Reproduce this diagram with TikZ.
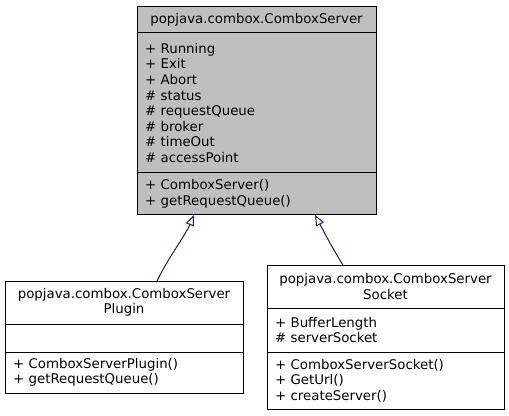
\documentclass[tikz,border=0pt]{standalone}
\usepackage{fontspec}
\setmainfont{DejaVu Sans}
\usetikzlibrary{positioning,arrows.meta}

\definecolor{edgeblue}{RGB}{25,25,112}
\definecolor{basegray}{RGB}{191,191,191}

\tikzset{
    classpart/.style={draw=black, rectangle, line width=0.75pt, outer sep=0pt,
        inner xsep=6pt, inner ysep=2pt, font=\fontsize{10}{11.7}\selectfont},
    classtitle/.style={classpart, align=center},
    classmember/.style={classpart, align=left},
    basefill/.style={fill=basegray},
    serverwidth/.style={minimum width=179.25pt, text width=167.25pt},
    pluginwidth/.style={minimum width=178.5pt, text width=166.5pt},
    socketwidth/.style={minimum width=177.75pt, text width=165.75pt},
    inherits/.style={draw=edgeblue, line width=0.75pt,
        -{Triangle[open, length=8pt, width=6.5pt]}},
}

\begin{document}
\begin{tikzpicture}[x=0.75pt, y=-0.75pt]
    \useasboundingbox (0,0) rectangle (509,416);

    % base class
    \node[classtitle, basefill, serverwidth, anchor=north, minimum height=19.5pt]
        (server) at (256.5,7) {popjava.combox.ComboxServer};
    \node[classmember, basefill, serverwidth, below=0pt of server, minimum height=105pt]
        (serverattr) {+ Running\\+ Exit\\+ Abort\\\# status\\\# requestQueue\\\# broker\\\# timeOut\\\# accessPoint};
    \node[classmember, basefill, serverwidth, below=0pt of serverattr, minimum height=31.5pt]
        (serverops) {+ ComboxServer()\\+ getRequestQueue()};

    % derived classes
    \node[classtitle, pluginwidth, anchor=north, minimum height=32.25pt]
        (plugin) at (124,281) {popjava.combox.ComboxServer\\Plugin};
    \node[classmember, pluginwidth, below=0pt of plugin, minimum height=21pt]
        (pluginattr) {};
    \node[classmember, pluginwidth, below=0pt of pluginattr, minimum height=30.75pt]
        (pluginops) {+ ComboxServerPlugin()\\+ getRequestQueue()};

    \node[classtitle, socketwidth, anchor=north, minimum height=32.25pt]
        (socket) at (385.5,265) {popjava.combox.ComboxServer\\Socket};
    \node[classmember, socketwidth, below=0pt of socket, minimum height=33pt]
        (socketattr) {+ BufferLength\\\# serverSocket};
    \node[classmember, socketwidth, below=0pt of socketattr, minimum height=42.75pt]
        (socketops) {+ ComboxServerSocket()\\+ GetUrl()\\+ createServer()};

    % inheritance
    \coordinate (plugintip) at (194,215);
    \coordinate (pluginfoot) at (157,281);
    \coordinate (sockettip) at (315,215);
    \coordinate (socketfoot) at (343,265);
    \draw[inherits] (pluginfoot) .. controls (168,258) and (185,236) .. (plugintip);
    \draw[inherits] (socketfoot) .. controls (331,246) and (322,228) .. (sockettip);
\end{tikzpicture}
\end{document}
